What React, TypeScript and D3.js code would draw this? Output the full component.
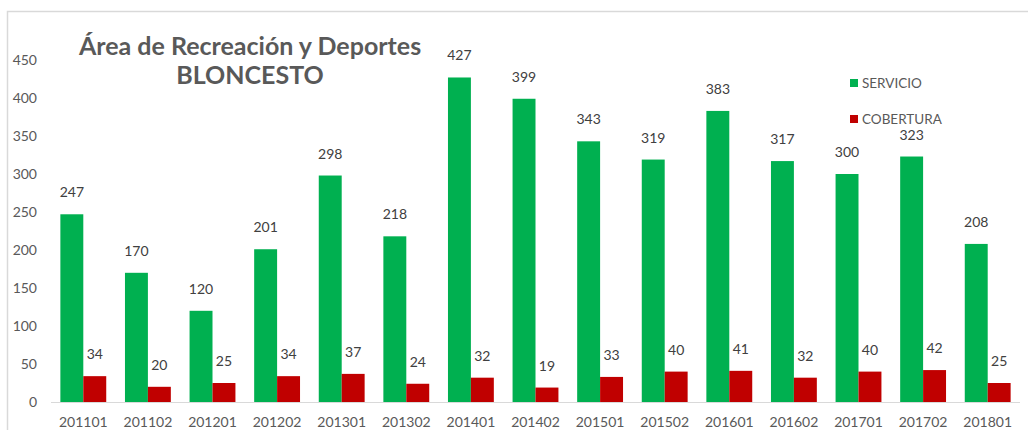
import React from "react";
import * as d3 from "d3";

const categories = ["201101","201102","201201","201202","201301","201302","201401","201402","201501","201502","201601","201602","201701","201702","201801"];
const servicio = [247,170,120,201,298,218,427,399,343,319,383,317,300,323,208];
const cobertura = [34,20,25,34,37,24,32,19,33,40,41,32,40,42,25];
const yTicks = [0,50,100,150,200,250,300,350,400,450];
const seriesNames = ["SERVICIO","COBERTURA"];
const colors = ["#00B050","#C00000"];

const W = 1028, H = 430;
const FONT = "Lato, 'Open Sans', sans-serif";
const TXT = "#595959";

export default function App() {
  const x = d3.scaleBand<string>().domain(categories).range([51, 1020]).paddingInner(0.29).paddingOuter(0.145);
  const x1 = d3.scaleBand<string>().domain(seriesNames).range([0, x.bandwidth()]);
  const y = d3.scaleLinear().domain([0, 450]).range([402, 60]);
  const series = [servicio, cobertura];
  return (
    <svg width={W} height={H} style={{ position: "absolute", left: 0, top: 0, background: "#fff" }} fontFamily={FONT}>
      <rect x={0} y={0} width={W} height={H} fill="#fff" />
      <path d={`M7.5,${H} V11.5 H${W}`} fill="none" stroke="#d9d9d9" strokeWidth={1.5} />
      {yTicks.map(t => (
        <text key={t} x={37} y={y(t) + 5} textAnchor="end" fontSize={14} fill={TXT}>{t}</text>
      ))}
      {series.map((vals, si) =>
        vals.map((v, i) => {
          const bx = (x(categories[i]) ?? 0) + (x1(seriesNames[si]) ?? 0);
          return (
            <g key={`${si}-${i}`}>
              <rect x={bx} y={y(v)} width={x1.bandwidth()} height={y(0) - y(v)} fill={colors[si]} />
              <text x={bx + x1.bandwidth() / 2} y={y(v) - 17} textAnchor="middle" fontSize={14} fill="#404040">{v}</text>
            </g>
          );
        })
      )}
      <line x1={51} x2={1020} y1={402.5} y2={402.5} stroke="#d9d9d9" strokeWidth={1} />
      {categories.map(c => (
        <text key={c} x={(x(c) ?? 0) + x.bandwidth() / 2} y={427} textAnchor="middle" fontSize={14} fill={TXT}>{c}</text>
      ))}
      <text x={250} y={55} textAnchor="middle" fontSize={25} fontWeight="bold" fill={TXT}>Área de Recreación y Deportes</text>
      <text x={250} y={84} textAnchor="middle" fontSize={25} fontWeight="bold" fill={TXT}>BLONCESTO</text>
      {seriesNames.map((n, i) => (
        <g key={n}>
          <rect x={850} y={79 + i * 36} width={8} height={8} fill={colors[i]} />
          <text x={862} y={88 + i * 36} fontSize={13.5} fill={TXT}>{n}</text>
        </g>
      ))}
    </svg>
  );
}
